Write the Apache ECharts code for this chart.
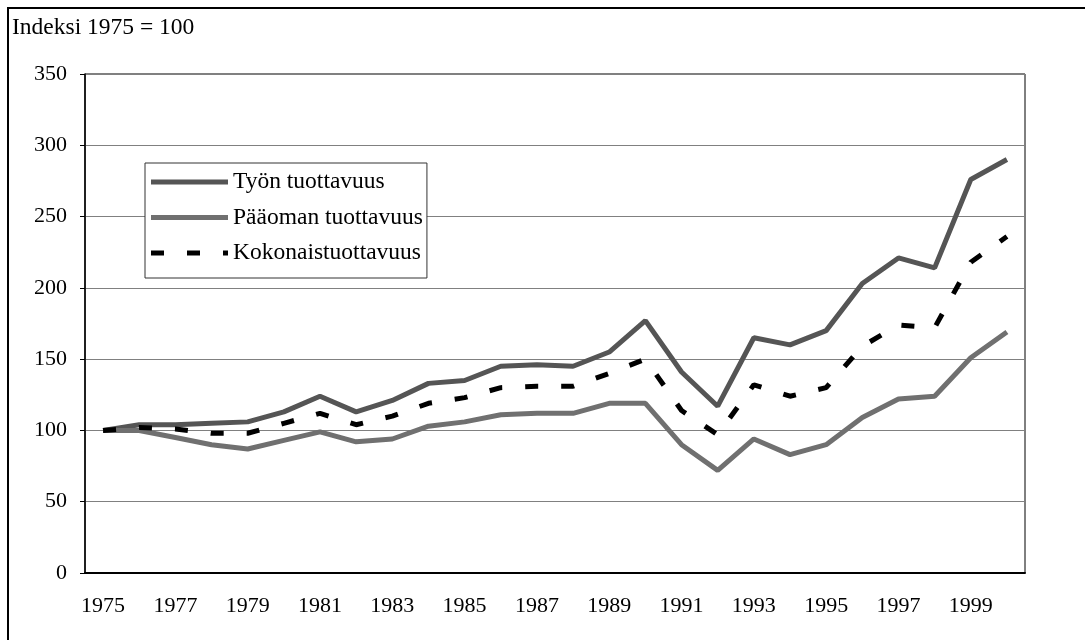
<!DOCTYPE html>
<html>
<head>
<meta charset="utf-8">
<script src="https://cdn.jsdelivr.net/npm/echarts@6/dist/echarts.min.js"></script>
<style>
  html, body { margin: 0; padding: 0; background: #fff; }
  #main { width: 1085px; height: 640px; }
</style>
</head>
<body>
<div id="main"></div>
<script>
// vuodet 1975-2000
var years = ["1975","1976","1977","1978","1979","1980","1981","1982","1983","1984","1985","1986","1987",
  "1988","1989","1990","1991","1992","1993","1994","1995","1996","1997","1998","1999","2000"];
var tyon = [100,104,104,105,106,113,124,113,121,133,135,145,146,145,155,177,141,117,165,160,170,203,221,214,276,290];
var paaoma = [100,100,95,90,87,93,99,92,94,103,106,111,112,112,119,119,90,72,94,83,90,109,122,124,151,169];
var kokon = [100,102,101,98,98,105,112,104,110,119,123,130,131,131,140,150,114,97,132,124,130,159,174,172,218,236];
var yTicks = [0, 50, 100, 150, 200, 250, 300, 350];

var font = "'Liberation Serif', 'DejaVu Serif', serif";

var myChart = echarts.init(document.getElementById("main"));

var option = {
  animation: false,
  backgroundColor: "#fff",
  textStyle: { fontFamily: font, color: "#000" },
  graphic: [
    {
      type: "rect",
      shape: { x: 8, y: 8, width: 1200, height: 800 },
      style: { fill: null, stroke: "#000", lineWidth: 2 },
      silent: true
    },
    {
      type: "text",
      left: 12,
      top: 16,
      style: { text: "Indeksi 1975 = 100", font: "23.5px " + font, fill: "#000" }
    }
  ],
  grid: {
    left: 85, right: 60, top: 74, bottom: 67,
    show: true, borderColor: "#000", borderWidth: 1
  },
  legend: {
    orient: "vertical",
    left: 145, top: 163,
    padding: [7, 4, 13, 6],
    itemWidth: 77, itemHeight: 5, itemGap: 11.5,
    backgroundColor: "#fff",
    borderColor: "#333", borderWidth: 1,
    textStyle: { fontFamily: font, fontSize: 23.5, color: "#000" },
    data: [
      { name: "Työn tuottavuus", icon: "rect" },
      { name: "Pääoman tuottavuus", icon: "rect" },
      { name: "Kokonaistuottavuus", icon: "path://M0,0h13v5h-13z M36,0h13v5h-13z M72,0h5v5h-5z" }
    ]
  },
  xAxis: {
    type: "category",
    data: years,
    axisLine: { lineStyle: { color: "#000", width: 2 } },
    axisTick: { interval: 0, length: 5, lineStyle: { color: "#000" } },
    axisLabel: { interval: 1, margin: 22, fontFamily: font, fontSize: 22, color: "#000" },
    splitLine: { show: false }
  },
  yAxis: {
    type: "value",
    min: yTicks[0], max: yTicks[yTicks.length - 1], interval: 50,
    axisLine: { show: true, lineStyle: { color: "#000", width: 1.5 } },
    axisTick: { show: true, length: 5, lineStyle: { color: "#000" } },
    axisLabel: { margin: 18, fontFamily: font, fontSize: 22, color: "#000" },
    splitLine: { lineStyle: { color: "#808080", width: 1 } }
  },
  series: [
    {
      name: "Työn tuottavuus",
      type: "line",
      data: tyon,
      symbol: "none",
      lineStyle: { color: "#555", width: 5 },
      itemStyle: { color: "#555" }
    },
    {
      name: "Pääoman tuottavuus",
      type: "line",
      data: paaoma,
      symbol: "none",
      lineStyle: { color: "#707070", width: 5 },
      itemStyle: { color: "#707070" }
    },
    {
      name: "Kokonaistuottavuus",
      type: "line",
      data: kokon,
      symbol: "none",
      lineStyle: { color: "#000", width: 5, type: [13, 23] },
      itemStyle: { color: "#000" }
    }
  ]
};

option && myChart.setOption(option);
</script>
</body>
</html>
